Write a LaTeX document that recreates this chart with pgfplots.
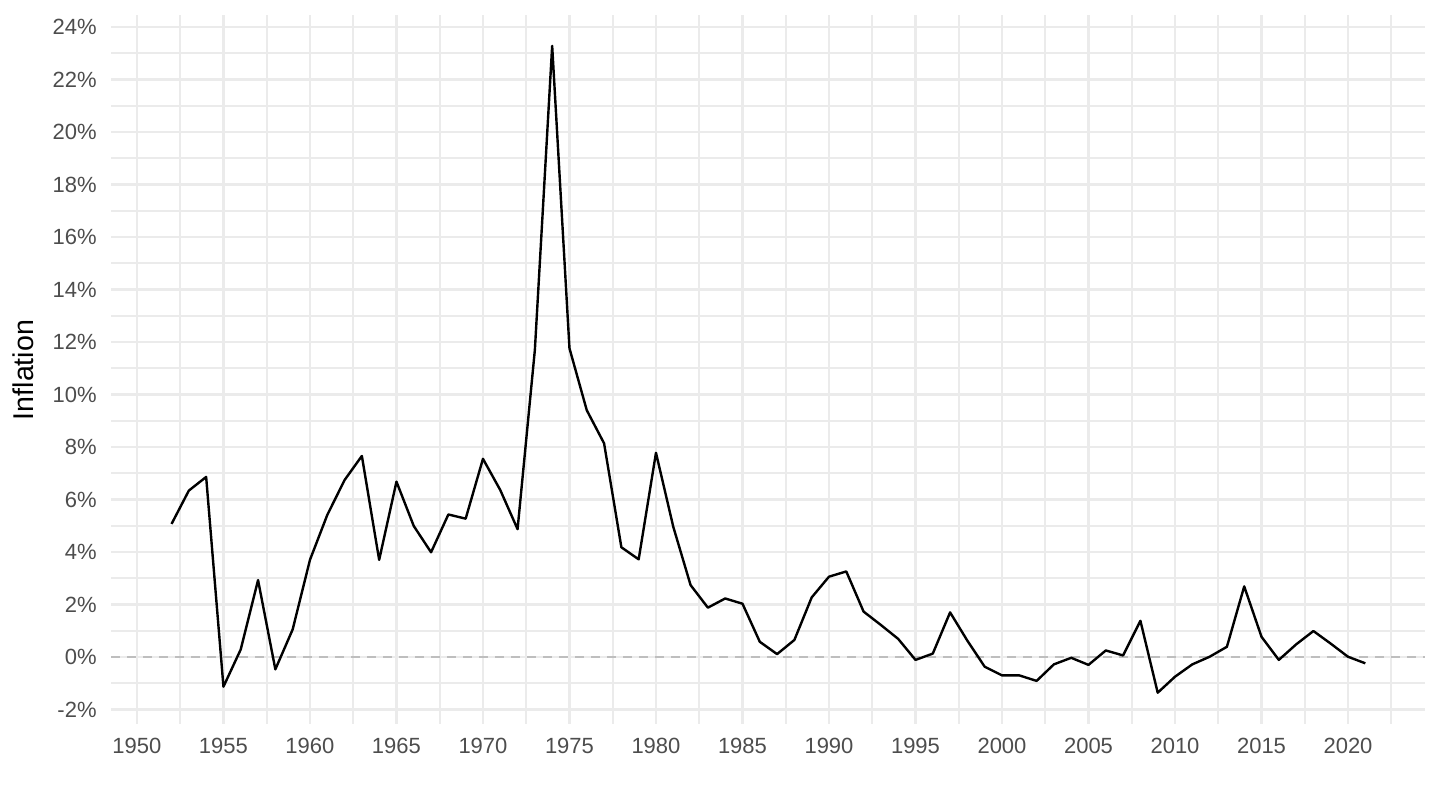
\documentclass[border=0pt]{standalone}
\usepackage{fontspec}
\setmainfont{Liberation Sans}
\usepackage{pgfplots}
\pgfplotsset{compat=1.18}
\definecolor{gridgray}{RGB}{235,235,235}
\definecolor{ticktext}{RGB}{77,77,77}
\definecolor{zerogray}{RGB}{190,190,190}

\begin{document}
\begin{tikzpicture}
\useasboundingbox (0,0) rectangle (720pt,405pt);
\begin{axis}[
    at={(55.5pt,43pt)}, anchor=south west,
    scale only axis,
    width=657pt, height=354.5pt,
    xmin=1948.5, xmax=2024.45,
    ymin=-2.552, ymax=24.457,
    axis line style={draw=none},
    major tick length=0pt, minor tick length=0pt,
    tick style={draw=none},
    xtick={1950,1955,...,2020},
    xticklabels={1950,1955,1960,1965,1970,1975,1980,1985,1990,1995,2000,2005,2010,2015,2020},
    minor xtick={1952.5,1957.5,...,2022.5},
    ytick={-2,0,...,24},
    yticklabels={-2\%,0\%,2\%,4\%,6\%,8\%,10\%,12\%,14\%,16\%,18\%,20\%,22\%,24\%},
    minor ytick={-1,1,...,23},
    grid=both,
    major grid style={gridgray, line width=1.35pt},
    minor grid style={gridgray, line width=0.8pt},
    ticklabel style={font=\fontsize{11}{13}\selectfont, text=ticktext},
    yticklabel style={anchor=east, inner sep=0pt, xshift=-7pt},
    xticklabel style={anchor=north, inner sep=0pt, yshift=-7pt},
    clip=false,
]
\addplot [zerogray, line width=1.3pt, dash pattern=on 4.5pt off 3.5pt] coordinates {(1948.5,0) (2024.45,0)};
\addplot [black, line width=1.2pt, line join=round] coordinates {
(1952,5.07) (1953,6.34) (1954,6.86) (1955,-1.13) (1956,0.29) (1957,2.93)
(1958,-0.47) (1959,1.05) (1960,3.70) (1961,5.41) (1962,6.74) (1963,7.66)
(1964,3.70) (1965,6.68) (1966,4.99) (1967,3.99) (1968,5.43) (1969,5.27)
(1970,7.55) (1971,6.36) (1972,4.87) (1973,11.70) (1974,23.28) (1975,11.76)
(1976,9.40) (1977,8.14) (1978,4.18) (1979,3.72) (1980,7.78) (1981,4.96)
(1982,2.74) (1983,1.88) (1984,2.23) (1985,2.03) (1986,0.58) (1987,0.11)
(1988,0.65) (1989,2.27) (1990,3.06) (1991,3.26) (1992,1.73) (1993,1.22)
(1994,0.69) (1995,-0.11) (1996,0.13) (1997,1.70) (1998,0.62) (1999,-0.37)
(2000,-0.70) (2001,-0.70) (2002,-0.91) (2003,-0.28) (2004,-0.03) (2005,-0.30)
(2006,0.25) (2007,0.06) (2008,1.38) (2009,-1.36) (2010,-0.75) (2011,-0.28)
(2012,0.01) (2013,0.39) (2014,2.69) (2015,0.77) (2016,-0.11) (2017,0.48)
(2018,0.99) (2019,0.51) (2020,0.01) (2021,-0.24)
};
\end{axis}
\node[rotate=90, inner sep=0pt, font=\fontsize{14.3}{16}\selectfont] at (11.5pt,220pt) {Inflation};
\end{tikzpicture}
\end{document}
